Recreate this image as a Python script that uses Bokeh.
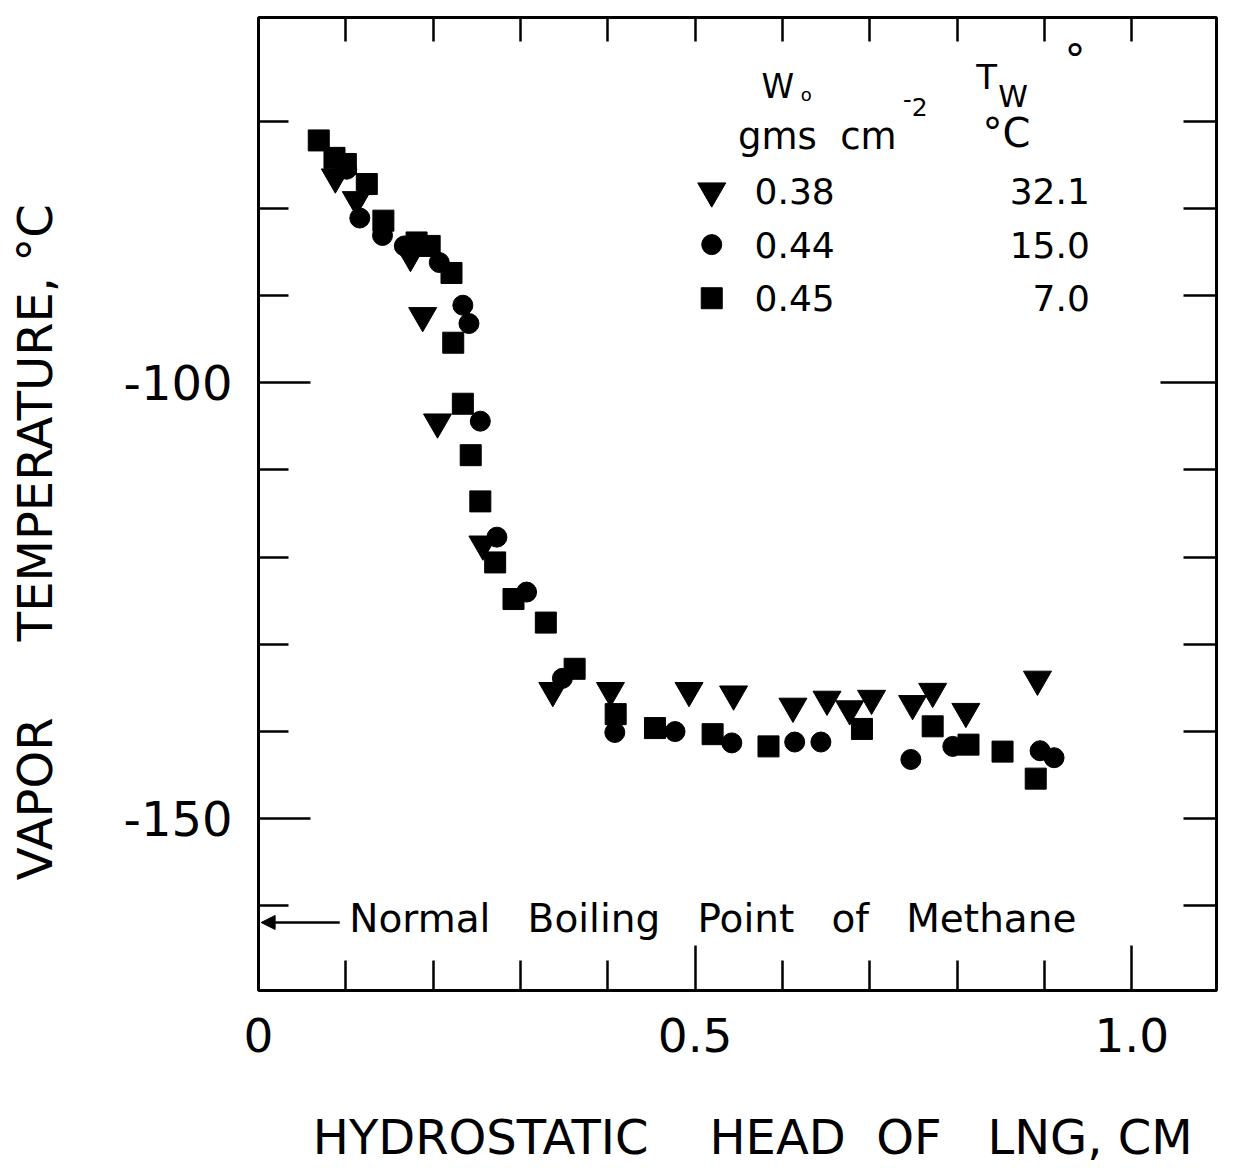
from bokeh.plotting import figure
from bokeh.models import Range1d, LinearAxis, FixedTicker, Label, Arrow, NormalHead
from bokeh.embed import file_html
from bokeh.resources import INLINE

# ---- data ----
tri_x = [0.088, 0.112, 0.174, 0.188, 0.205, 0.257, 0.337, 0.403, 0.493, 0.544,
         0.612, 0.651, 0.677, 0.702, 0.749, 0.772, 0.810, 0.892]
tri_y = [-76.4, -79.0, -85.4, -92.3, -104.5, -118.5, -135.3, -135.3, -135.3, -135.7,
         -137.1, -136.3, -137.4, -136.2, -136.8, -135.4, -137.7, -134.0]

cir_x = [0.101, 0.116, 0.142, 0.167, 0.207, 0.234, 0.241, 0.254, 0.273, 0.307,
         0.348, 0.408, 0.477, 0.542, 0.614, 0.644, 0.747, 0.795, 0.895, 0.911]
cir_y = [-75.5, -81.1, -83.1, -84.3, -86.2, -91.1, -93.2, -104.4, -117.7, -124.0,
         -133.9, -140.1, -140.0, -141.3, -141.2, -141.2, -143.2, -141.7, -142.2, -143.0]

sq_x = [0.069, 0.087, 0.100, 0.124, 0.143, 0.181, 0.196, 0.221, 0.223, 0.234,
        0.243, 0.254, 0.271, 0.292, 0.329, 0.362, 0.409, 0.454, 0.520, 0.584,
        0.691, 0.772, 0.813, 0.852, 0.890]
sq_y = [-72.2, -74.2, -74.9, -77.2, -81.4, -83.9, -84.3, -87.4, -95.4, -102.4,
        -108.3, -113.6, -120.6, -124.8, -127.5, -132.8, -138.0, -139.6, -140.3, -141.7,
        -139.7, -139.4, -141.5, -142.3, -145.4]

legend_w = ["0.38", "0.44", "0.45"]
legend_t = ["32.1", "15.0", "7.0"]
methane_nbp = -161.5

x_major = [0.0, 0.5, 1.0]
x_minor = [0.1, 0.2, 0.3, 0.4, 0.6, 0.7, 0.8, 0.9]
x_top = [0.1, 0.2, 0.3, 0.4, 0.5, 0.6, 0.7, 0.8, 0.9, 1.0]
y_major = [-150, -100]
y_minor = [-160, -140, -130, -120, -110, -90, -80, -70]
y_right_minor = [-160, -150, -140, -130, -120, -110, -90, -80, -70]

FONT = "DejaVu Sans"
NB = "\u00a0"

p = figure(width=1247, height=1168, output_backend="svg", toolbar_location=None,
           x_range=Range1d(0, 1.097), y_range=Range1d(-169.7, -58.1),
           x_axis_location=None, y_axis_location=None,
           min_border_left=258, min_border_right=31, min_border_top=17,
           min_border_bottom=178)
p.background_fill_color = "white"
p.border_fill_color = "white"
p.outline_line_color = "black"
p.outline_line_width = 3
p.xgrid.grid_line_color = None
p.ygrid.grid_line_color = None
p.xgrid.visible = False
p.ygrid.visible = False


def style_axis(ax, major_in, minor_in):
    ax.axis_line_color = None
    ax.major_tick_in = major_in
    ax.major_tick_out = 0
    ax.minor_tick_in = minor_in
    ax.minor_tick_out = 0
    ax.major_tick_line_width = 2.5
    ax.minor_tick_line_width = 2.5
    ax.major_tick_line_color = "black"
    ax.minor_tick_line_color = "black"
    ax.major_label_text_font = FONT
    ax.major_label_text_color = "black"
    ax.axis_label_text_font = FONT
    ax.axis_label_text_font_style = "normal"
    ax.axis_label_text_color = "black"


xb = LinearAxis(ticker=FixedTicker(ticks=x_major, minor_ticks=x_minor))
style_axis(xb, 45, 30)
xb.major_label_overrides = {0.0: "0", 0.5: "0.5", 1.0: "1.0"}
xb.major_label_text_font_size = "47px"
xb.major_label_standoff = 27
xb.axis_label = (NB * 2 + "HYDROSTATIC" + NB * 4 + "HEAD" + NB * 2 + "OF" + NB * 3
                 + "LNG," + NB + "CM")
xb.axis_label_text_font_size = "48px"
xb.axis_label_standoff = 54
p.add_layout(xb, "below")

xt = LinearAxis(ticker=FixedTicker(ticks=x_top))
style_axis(xt, 24, 0)
xt.major_label_overrides = {t: "" for t in x_top}
xt.major_label_text_font_size = "10px"
xt.major_label_standoff = 0
p.add_layout(xt, "above")

yl = LinearAxis(ticker=FixedTicker(ticks=y_major, minor_ticks=y_minor))
style_axis(yl, 52, 30)
yl.major_label_overrides = {-150: "-150", -100: "-100"}
yl.major_label_text_font_size = "48px"
yl.major_label_standoff = 26
yl.axis_label = ("VAPOR" + NB * 5 + "TEMPERATURE," + NB + "\u00b0C" + NB * 5)
yl.axis_label_text_font_size = "48px"
yl.axis_label_standoff = 58
p.add_layout(yl, "left")

yr = LinearAxis(ticker=FixedTicker(ticks=[-100], minor_ticks=y_right_minor))
style_axis(yr, 56, 33)
yr.major_label_overrides = {-100: ""}
yr.major_label_text_font_size = "10px"
yr.major_label_standoff = 0
p.add_layout(yr, "right")

# ---- data markers ----
p.scatter(tri_x, tri_y, marker="inverted_triangle", size=28, color="black")
p.scatter(cir_x, cir_y, marker="circle", size=20, color="black")
p.scatter(sq_x, sq_y, marker="square", size=21, color="black")

# ---- legend block (layout anchors in data units) ----
leg_mx = 0.519
leg_tx = 0.568
leg_rx = 0.952
leg_y0 = -78.0
leg_dy = 6.15
p.scatter([leg_mx], [leg_y0], marker="inverted_triangle", size=28, color="black")
p.scatter([leg_mx], [leg_y0 - leg_dy], marker="circle", size=20, color="black")
p.scatter([leg_mx], [leg_y0 - 2 * leg_dy], marker="square", size=21, color="black")


def lab(x, y, text, size, align="left"):
    p.add_layout(Label(x=x, y=y, text=text, text_font=FONT, text_font_size=size,
                       text_align=align, text_baseline="middle", text_color="black"))


for i in range(3):
    lab(leg_tx, leg_y0 - i * leg_dy, legend_w[i], "36px")
    lab(leg_rx, leg_y0 - i * leg_dy, legend_t[i], "36px", align="right")

lab(0.576, -66.0, "W", "33px")
lab(0.621, -66.9, "o", "18px")
lab(0.549, -71.7, "gms" + NB + NB + "cm", "37px")
lab(0.738, -67.5, "-", "24px")
lab(0.748, -68.4, "2", "25px")
lab(0.822, -64.9, "T", "34px")
lab(0.847, -67.2, "W", "30px")
lab(0.923, -63.0, "\u00b0", "42px")
lab(0.829, -71.4, "\u00b0C", "40px")

# ---- normal boiling point of methane ----
p.add_layout(Arrow(end=NormalHead(size=14, fill_color="black", line_color="black"),
                   x_start=0.093, y_start=methane_nbp - 0.4, x_end=0.003,
                   y_end=methane_nbp - 0.4, line_width=2.5, line_color="black"))
lab(0.104, methane_nbp + 0.1,
    "Normal" + NB * 3 + "Boiling" + NB * 3 + "Point" + NB * 3 + "of" + NB * 3 + "Methane",
    "39px")

open("out.html", "w").write(file_html(p, INLINE))
